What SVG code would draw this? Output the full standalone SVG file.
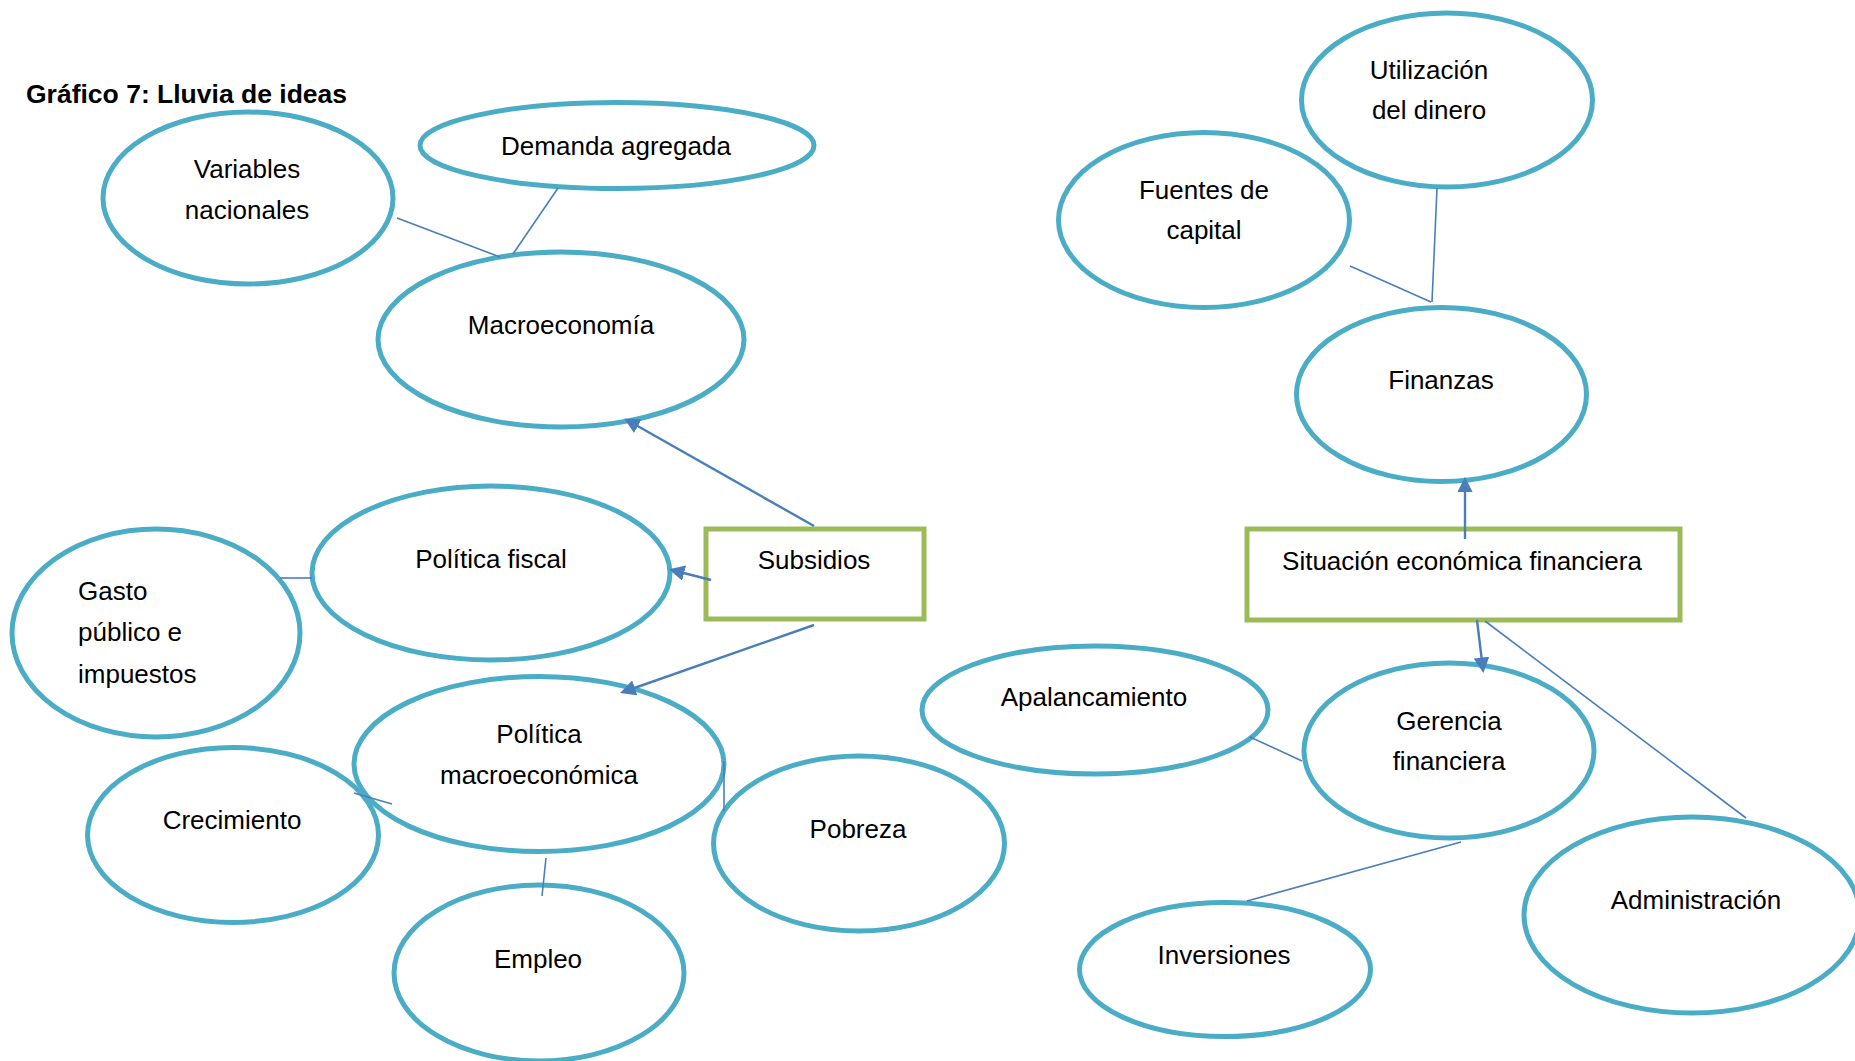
<svg xmlns="http://www.w3.org/2000/svg" width="1855" height="1061" viewBox="0 0 1855 1061">
<style>
.n{fill:#fff;stroke:#4BACC6;stroke-width:5}
.r{fill:#fff;stroke:#9BBB59;stroke-width:5}
.t{font-family:"Liberation Sans",Arial,sans-serif;font-size:26px;fill:#000}
.c{text-anchor:middle}
.l{stroke:#4A7EBB;stroke-width:1.6;fill:none}
.a{stroke-width:2.4;marker-end:url(#ah)}
</style>
<defs>
<marker id="ah" viewBox="0 0 10 10" refX="8" refY="5" markerWidth="6.5" markerHeight="6.5" markerUnits="strokeWidth" orient="auto">
<path d="M0,0 L10,5 L0,10 z" fill="#4A7EBB"/>
</marker>
</defs>
<rect width="1855" height="1061" fill="#fff"/>
<text x="26" y="103" font-family="Liberation Sans,Arial,sans-serif" font-weight="bold" font-size="26.5">Gráfico 7: Lluvia de ideas</text>

<g id="variables"><ellipse class="n" cx="248" cy="198" rx="145" ry="86"/><text class="t c" x="247" y="178">Variables</text><text class="t c" x="247" y="219">nacionales</text></g>
<g id="demanda"><ellipse class="n" cx="617" cy="145.5" rx="197" ry="43"/><text class="t c" x="616" y="155">Demanda agregada</text></g>
<g id="macro"><ellipse class="n" cx="561" cy="339.5" rx="183" ry="87.5"/><text class="t c" x="561" y="334">Macroeconomía</text></g>
<g id="fiscal"><ellipse class="n" cx="491" cy="573" rx="179" ry="87"/><text class="t c" x="491" y="568">Política fiscal</text></g>
<g id="gasto"><ellipse class="n" cx="156" cy="633" rx="144" ry="104"/><text class="t" x="78" y="600">Gasto</text><text class="t" x="78" y="641">público e</text><text class="t" x="78" y="683">impuestos</text></g>
<g id="crecimiento"><ellipse class="n" cx="233" cy="835" rx="145.5" ry="87.5"/><text class="t c" x="232" y="829">Crecimiento</text></g>
<g id="polmacro"><ellipse class="n" cx="539" cy="764" rx="185" ry="87.5"/><text class="t c" x="539" y="743">Política</text><text class="t c" x="539" y="784">macroeconómica</text></g>
<g id="pobreza"><ellipse class="n" cx="859" cy="843.5" rx="145.5" ry="87.5"/><text class="t c" x="858" y="838">Pobreza</text></g>
<g id="empleo"><ellipse class="n" cx="539" cy="973" rx="145" ry="88"/><text class="t c" x="538" y="968">Empleo</text></g>
<g id="subsidios"><rect class="r" x="706" y="529" width="218" height="90"/><text class="t c" x="814" y="569">Subsidios</text></g>

<g id="utilizacion"><ellipse class="n" cx="1447" cy="100" rx="145.5" ry="87"/><text class="t c" x="1429" y="79">Utilización</text><text class="t c" x="1429" y="119">del dinero</text></g>
<g id="fuentes"><ellipse class="n" cx="1204" cy="220" rx="145.5" ry="87.5"/><text class="t c" x="1204" y="199">Fuentes de</text><text class="t c" x="1204" y="239">capital</text></g>
<g id="finanzas"><ellipse class="n" cx="1441.5" cy="394.5" rx="145" ry="87"/><text class="t c" x="1441" y="389">Finanzas</text></g>
<g id="situacion"><rect class="r" x="1247" y="529" width="433" height="91"/><text class="t c" x="1462" y="570">Situación económica financiera</text></g>
<g id="apalancamiento"><ellipse class="n" cx="1095" cy="710" rx="173" ry="64"/><text class="t c" x="1094" y="706">Apalancamiento</text></g>
<g id="gerencia"><ellipse class="n" cx="1449" cy="750.5" rx="145" ry="87.5"/><text class="t c" x="1449" y="730">Gerencia</text><text class="t c" x="1449" y="770">financiera</text></g>
<g id="inversiones"><ellipse class="n" cx="1225" cy="969.5" rx="145.5" ry="67"/><text class="t c" x="1224" y="964">Inversiones</text></g>
<g id="administracion"><ellipse class="n" cx="1692" cy="915" rx="168" ry="98"/><text class="t c" x="1696" y="909">Administración</text></g>

<g id="connectors">
<line class="l" x1="397" y1="218" x2="500" y2="257"/>
<line class="l" x1="558" y1="188" x2="513" y2="254"/>
<line class="l a" x1="814" y1="526" x2="627" y2="420"/>
<line class="l a" x1="711" y1="580" x2="672" y2="570"/>
<line class="l a" x1="814" y1="625" x2="623" y2="692"/>
<line class="l" x1="280" y1="578" x2="312" y2="578"/>
<line class="l" x1="354" y1="793" x2="392" y2="804"/>
<line class="l" x1="724" y1="761" x2="724" y2="811"/>
<line class="l" x1="546" y1="858" x2="542" y2="896"/>
<line class="l" x1="1350" y1="266" x2="1431" y2="302"/>
<line class="l" x1="1437" y1="188" x2="1432" y2="302"/>
<line class="l a" x1="1465" y1="539" x2="1465" y2="480"/>
<line class="l a" x1="1477" y1="620" x2="1483" y2="670"/>
<line class="l" x1="1485" y1="621" x2="1746" y2="818"/>
<line class="l" x1="1250" y1="737" x2="1302" y2="761"/>
<line class="l" x1="1461" y1="842" x2="1247" y2="901"/>
</g>
</svg>
